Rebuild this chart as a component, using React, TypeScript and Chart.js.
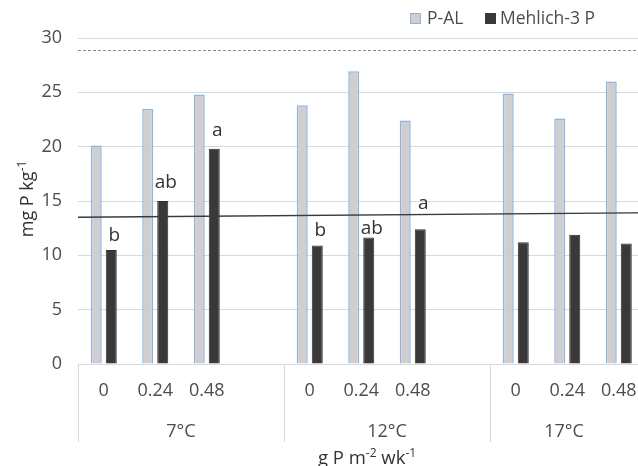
import { useEffect, useRef } from "react";
import { Chart, registerables } from "chart.js";

Chart.register(...registerables);

const categories = ["0", "0.24", "0.48", "", "0", "0.24", "0.48", "", "0", "0.24", "0.48", ""];
const groups = ["7°C", "12°C", "17°C"];
const groupSize = 4;
const pAL = [20.1, 23.5, 24.8, null, 23.8, 26.95, 22.4, null, 24.9, 22.6, 26.0, null];
const mehlich3 = [10.5, 15.0, 19.8, null, 10.9, 11.65, 12.4, null, 11.2, 11.9, 11.1, null];
const letters = ["b", "ab", "a", null, "b", "ab", "a", null, null, null, null, null];
const letterLevels = [11.3, 16.2, 20.95, null, 11.75, 12.0, 14.25, null, null, null, null, null];
const dashedLevel = 28.9;
const solidLineLevels = [13.5, 13.95];
const yMax = 30;
const yStep = 5;

const VIEW_W = 638;
const FONT = '"Open Sans", sans-serif';
const TEXT = "#4d4d4d";

function drawWithSup(ctx: CanvasRenderingContext2D, parts: { t: string; sup?: boolean }[], size: number, cx: number, baseY: number) {
  const mainFont = `${size}px ${FONT}`;
  const supFont = `${Math.round(size * 0.65)}px ${FONT}`;
  let total = 0;
  const widths = parts.map((p) => {
    ctx.font = p.sup ? supFont : mainFont;
    const w = ctx.measureText(p.t).width;
    total += w;
    return w;
  });
  let xx = cx - total / 2;
  ctx.textAlign = "left";
  ctx.textBaseline = "alphabetic";
  parts.forEach((p, i) => {
    ctx.font = p.sup ? supFont : mainFont;
    ctx.fillText(p.t, xx, p.sup ? baseY - size * 0.38 : baseY);
    xx += widths[i];
  });
}

const overlay = {
  id: "overlay",
  afterDatasetsDraw(chart: any) {
    const { ctx, chartArea: a, scales } = chart;
    const y = scales.y;
    ctx.save();
    ctx.strokeStyle = "#8c8c8c";
    ctx.lineWidth = 1;
    ctx.setLineDash([3, 2]);
    const yd = Math.round(y.getPixelForValue(dashedLevel)) + 0.5;
    ctx.beginPath();
    ctx.moveTo(a.left, yd);
    ctx.lineTo(a.right, yd);
    ctx.stroke();
    ctx.setLineDash([]);
    ctx.strokeStyle = "#3a3a3a";
    ctx.lineWidth = 1.4;
    ctx.beginPath();
    ctx.moveTo(a.left, y.getPixelForValue(solidLineLevels[0]));
    ctx.lineTo(a.right, y.getPixelForValue(solidLineLevels[1]));
    ctx.stroke();
    const meta = chart.getDatasetMeta(1);
    ctx.font = `19px ${FONT}`;
    ctx.fillStyle = "#333333";
    ctx.textAlign = "center";
    ctx.textBaseline = "alphabetic";
    letters.forEach((t, i) => {
      if (!t) return;
      const el = meta.data[i];
      ctx.fillText(t, el.x + 3, y.getPixelForValue(letterLevels[i] as number));
    });
    ctx.restore();
  },
  afterDraw(chart: any) {
    const { ctx, chartArea: a, scales } = chart;
    const x = scales.x;
    ctx.save();
    const slot = x.getPixelForValue(1) - x.getPixelForValue(0);
    const boundary = (g: number) => x.getPixelForValue(g * groupSize) - slot / 2;
    ctx.strokeStyle = "#d9d9d9";
    ctx.lineWidth = 1;
    for (let g = 0; g <= groups.length; g++) {
      const bx = Math.round(boundary(g)) + 0.5;
      ctx.beginPath();
      ctx.moveTo(bx, a.bottom);
      ctx.lineTo(bx, 442);
      ctx.stroke();
    }
    ctx.fillStyle = TEXT;
    ctx.font = `18px ${FONT}`;
    ctx.textAlign = "center";
    ctx.textBaseline = "alphabetic";
    groups.forEach((lab, g) => {
      const s = boundary(g);
      const e = Math.min(boundary(g + 1), VIEW_W);
      ctx.fillText(lab, (s + e) / 2, 437);
    });
    ctx.fillStyle = "#333333";
    drawWithSup(ctx, [{ t: "g P m" }, { t: "-2", sup: true }, { t: " wk" }, { t: "-1", sup: true }], 18.5, 367, 464);
    ctx.save();
    ctx.translate(33, 199);
    ctx.rotate(-Math.PI / 2);
    drawWithSup(ctx, [{ t: "mg P kg" }, { t: "-1", sup: true }], 18, 0, 0);
    ctx.restore();
    const items = [
      { label: chart.data.datasets[0].label, fill: "#d0cece", stroke: "#8db4e2", bx: 410.5, tx: 427 },
      { label: chart.data.datasets[1].label, fill: "#3b3838", stroke: "#3b3838", bx: 485.5, tx: 500 },
    ];
    ctx.font = `17.5px ${FONT}`;
    ctx.textAlign = "left";
    ctx.textBaseline = "middle";
    items.forEach((it) => {
      ctx.fillStyle = it.fill;
      ctx.fillRect(it.bx, 13.5, 10, 10);
      ctx.strokeStyle = it.stroke;
      ctx.strokeRect(it.bx, 13.5, 10, 10);
      ctx.fillStyle = TEXT;
      ctx.fillText(it.label, it.tx, 19.5);
    });
    ctx.restore();
  },
};

export default function App() {
  const ref = useRef<HTMLCanvasElement>(null);
  useEffect(() => {
    if (!ref.current) return;
    const chart = new Chart(ref.current, {
      type: "bar",
      data: {
        labels: categories,
        datasets: [
          {
            label: "P-AL",
            data: pAL,
            backgroundColor: "#d0cece",
            borderColor: "#8db4e2",
            borderWidth: 1.5,
            categoryPercentage: 0.583,
            barPercentage: 0.733,
          },
          {
            label: "Mehlich-3 P",
            data: mehlich3,
            backgroundColor: "#3b3838",
            borderColor: "#2e2e2e",
            borderWidth: 1,
            categoryPercentage: 0.583,
            barPercentage: 0.733,
          },
        ],
      },
      options: {
        responsive: false,
        animation: false,
        devicePixelRatio: 1,
        layout: { padding: { top: 38, right: 4, left: 0, bottom: 0 } },
        plugins: { legend: { display: false }, tooltip: { enabled: false } },
        scales: {
          x: {
            offset: true,
            grid: { display: false, drawTicks: false },
            border: { display: true, color: "#d9d9d9" },
            ticks: {
              font: { family: FONT, size: 18 },
              color: TEXT,
              padding: 16,
              maxRotation: 0,
              autoSkip: false,
            },
            afterFit: (s: any) => {
              s.height = 102;
            },
          },
          y: {
            min: 0,
            max: yMax,
            grid: { color: "#d9d9d9", drawTicks: false },
            border: { display: false },
            ticks: {
              stepSize: yStep,
              font: { family: FONT, size: 18 },
              color: TEXT,
              padding: 16,
            },
            afterFit: (s: any) => {
              s.width = 78;
            },
          },
        },
      },
      plugins: [overlay],
    });
    return () => chart.destroy();
  }, []);
  return (
    <div style={{ position: "fixed", left: 0, top: 0, width: VIEW_W, height: 466, overflow: "hidden", background: "#fff" }}>
      <canvas ref={ref} width={700} height={466} style={{ display: "block" }} />
    </div>
  );
}
